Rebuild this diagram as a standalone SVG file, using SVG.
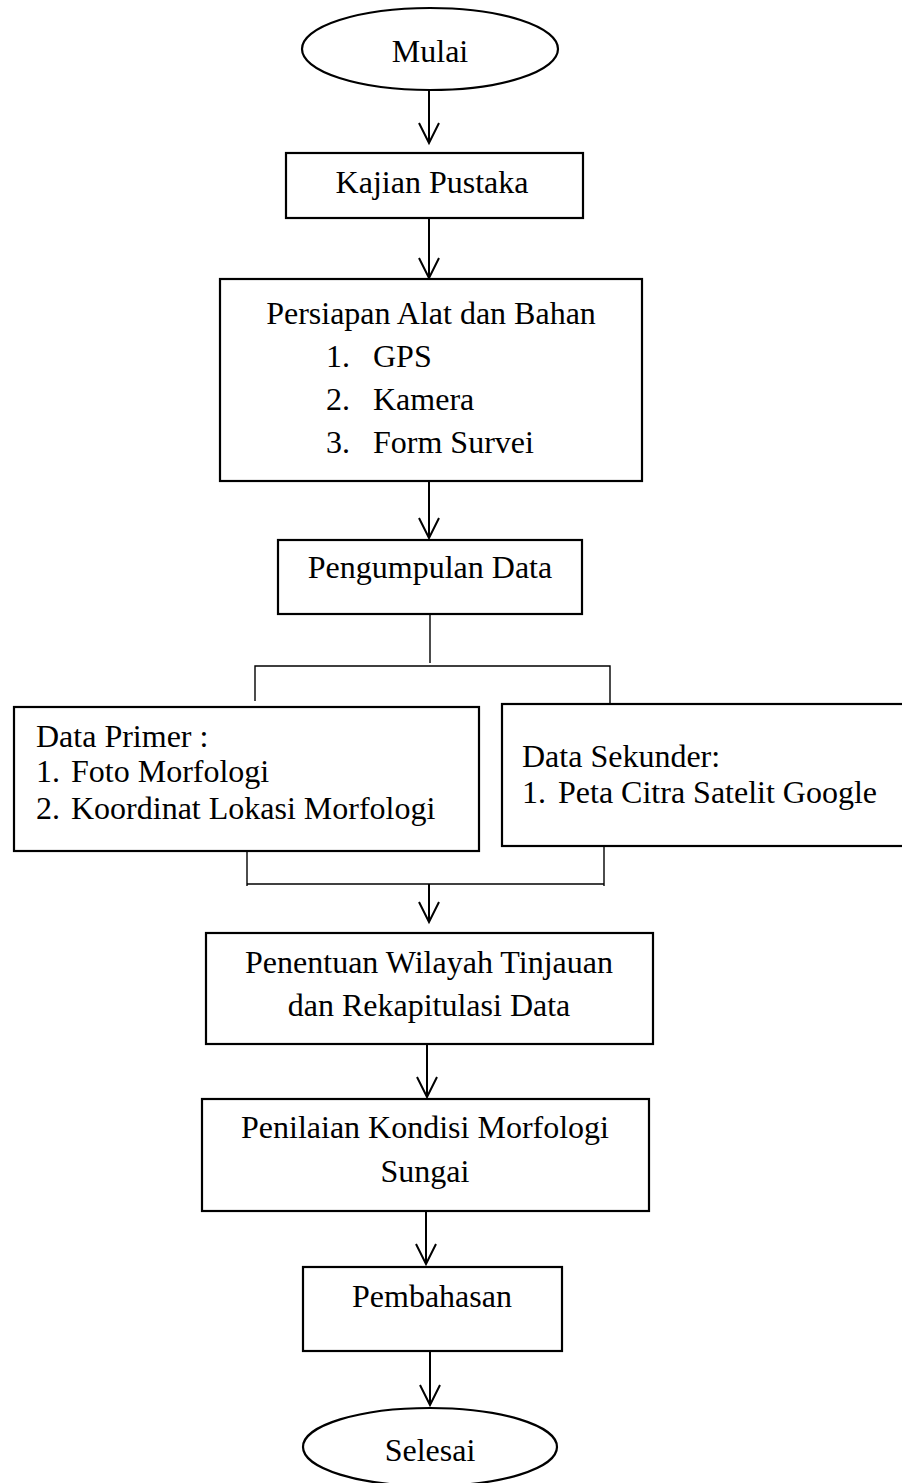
<svg xmlns="http://www.w3.org/2000/svg" width="902" height="1483" viewBox="0 0 902 1483">
<style>
.box{fill:#fff;stroke:#000;stroke-width:2.2}
.t{font-family:"Liberation Serif","Times New Roman",serif;font-size:32px;fill:#000}
.c{text-anchor:middle}
.ln{stroke:#000;stroke-width:2;fill:none}
.thin{stroke:#000;stroke-width:1.4;fill:none}
.ah{stroke:#000;stroke-width:2;fill:none}
</style>
<rect width="902" height="1483" fill="#fff"/>
<g id="connectors">
<line class="ln" x1="429" y1="90" x2="429" y2="143"/><polyline class="ah" points="419,123 429,143 439,123"/>
<line class="ln" x1="429" y1="218" x2="429" y2="278"/><polyline class="ah" points="419,258 429,278 439,258"/>
<line class="ln" x1="429" y1="481" x2="429" y2="538"/><polyline class="ah" points="419,518 429,538 439,518"/>
<line class="thin" x1="430" y1="614" x2="430" y2="663"/>
<polyline class="thin" points="255,701 255,666 610,666 610,703"/>
<polyline class="thin" points="247,851 247,886"/>
<polyline class="thin" points="604,846 604,886"/>
<line class="thin" x1="247" y1="884" x2="604" y2="884"/>
<line class="ln" x1="429" y1="884" x2="429" y2="922"/><polyline class="ah" points="419,902 429,922 439,902"/>
<line class="ln" x1="427" y1="1044" x2="427" y2="1097"/><polyline class="ah" points="417,1077 427,1097 437,1077"/>
<line class="ln" x1="426" y1="1211" x2="426" y2="1264"/><polyline class="ah" points="416,1244 426,1264 436,1244"/>
<line class="ln" x1="430" y1="1351" x2="430" y2="1405"/><polyline class="ah" points="420,1385 430,1405 440,1385"/>
</g>
<g id="mulai">
<ellipse class="box" cx="430" cy="49" rx="128" ry="41"/>
<text class="t c" x="430" y="62">Mulai</text>
</g>
<g id="kajian">
<rect class="box" x="286" y="153" width="297" height="65"/>
<text class="t c" x="432" y="193">Kajian Pustaka</text>
</g>
<g id="persiapan">
<rect class="box" x="220" y="279" width="422" height="202"/>
<text class="t c" x="431" y="324">Persiapan Alat dan Bahan</text>
<text class="t" x="326" y="367">1.</text><text class="t" x="373" y="367">GPS</text>
<text class="t" x="326" y="410">2.</text><text class="t" x="373" y="410">Kamera</text>
<text class="t" x="326" y="453">3.</text><text class="t" x="373" y="453">Form Survei</text>
</g>
<g id="pengumpulan">
<rect class="box" x="278" y="540" width="304" height="74"/>
<text class="t c" x="430" y="578">Pengumpulan Data</text>
</g>
<g id="primer">
<rect class="box" x="14" y="707" width="465" height="144"/>
<text class="t" x="36" y="747">Data Primer :</text>
<text class="t" x="36" y="782">1.</text><text class="t" x="71" y="782">Foto Morfologi</text>
<text class="t" x="36" y="819">2.</text><text class="t" x="71" y="819">Koordinat Lokasi Morfologi</text>
</g>
<g id="sekunder">
<rect class="box" x="502" y="704" width="404" height="142"/>
<text class="t" x="522" y="767">Data Sekunder:</text>
<text class="t" x="522" y="803">1.</text><text class="t" x="558" y="803">Peta Citra Satelit Google</text>
</g>
<g id="penentuan">
<rect class="box" x="206" y="933" width="447" height="111"/>
<text class="t c" x="429" y="973">Penentuan Wilayah Tinjauan</text>
<text class="t c" x="429" y="1016">dan Rekapitulasi Data</text>
</g>
<g id="penilaian">
<rect class="box" x="202" y="1099" width="447" height="112"/>
<text class="t c" x="425" y="1138">Penilaian Kondisi Morfologi</text>
<text class="t c" x="425" y="1182">Sungai</text>
</g>
<g id="pembahasan">
<rect class="box" x="303" y="1267" width="259" height="84"/>
<text class="t c" x="432" y="1307">Pembahasan</text>
</g>
<g id="selesai">
<ellipse class="box" cx="430" cy="1447" rx="127" ry="39"/>
<text class="t c" x="430" y="1461">Selesai</text>
</g>
</svg>
